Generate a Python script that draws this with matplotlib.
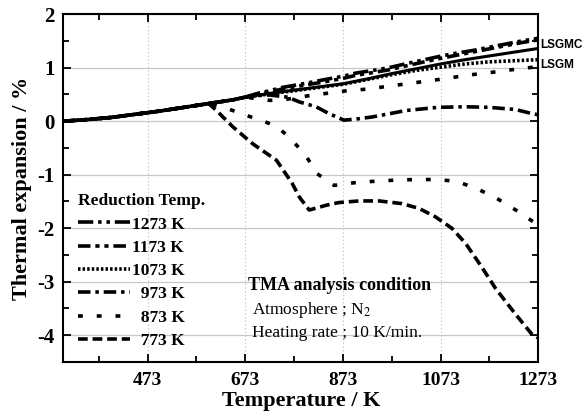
import matplotlib
matplotlib.use("Agg")
import matplotlib.pyplot as plt
from matplotlib.ticker import MultipleLocator, FixedLocator

plt.rcParams['font.family'] = ['Liberation Serif', 'DejaVu Serif']
plt.rcParams['mathtext.fontset'] = 'stix'
plt.rcParams['lines.scale_dashes'] = False
plt.rcParams['axes.unicode_minus'] = False

# shared low-temperature part of all runs
base_T = [300, 348, 398, 448, 498, 548, 598, 648, 673]
base_dL = [0.0, 0.03, 0.07, 0.13, 0.19, 0.26, 0.33, 0.40, 0.45]

# unreduced sample (solid)
ref_T = [723, 773, 823, 873, 923, 973, 1023, 1073, 1123, 1173, 1223, 1273]
ref_dL = [0.52, 0.58, 0.64, 0.70, 0.79, 0.89, 0.98, 1.07, 1.15, 1.22, 1.29, 1.36]

T_1273 = [698, 723, 748, 773, 798, 831, 873, 900, 935, 967, 1000, 1035, 1070,
          1104, 1138, 1171, 1205, 1239, 1273]
dL_1273 = [0.52, 0.57, 0.63, 0.67, 0.71, 0.77, 0.84, 0.90, 0.95, 1.00, 1.07,
           1.14, 1.21, 1.27, 1.32, 1.38, 1.44, 1.50, 1.55]

T_1173 = T_1273
dL_1173 = [0.51, 0.55, 0.60, 0.64, 0.68, 0.73, 0.80, 0.86, 0.91, 0.96, 1.03,
           1.10, 1.17, 1.23, 1.29, 1.35, 1.41, 1.47, 1.52]

T_1073 = [723, 773, 823, 873, 923, 973, 1023, 1073, 1123, 1173, 1223, 1273]
dL_1073 = [0.51, 0.57, 0.63, 0.69, 0.78, 0.87, 0.95, 1.01, 1.07, 1.11, 1.13, 1.15]

T_973 = [698, 723, 760, 784, 818, 845, 875, 900, 933, 968, 1002, 1035, 1069,
         1124, 1171, 1226, 1257, 1273]
dL_973 = [0.48, 0.49, 0.45, 0.36, 0.27, 0.14, 0.02, 0.04, 0.08, 0.14, 0.20,
          0.23, 0.26, 0.27, 0.26, 0.22, 0.15, 0.12]

T_lsgm = [698, 723, 748, 773, 798, 839, 882, 922, 963, 1004, 1045, 1086, 1127,
          1167, 1208, 1253, 1273]
dL_lsgm = [0.42, 0.39, 0.40, 0.43, 0.47, 0.52, 0.57, 0.60, 0.65, 0.70, 0.75,
           0.80, 0.86, 0.90, 0.95, 1.00, 1.02]

T_873 = [635, 675, 716, 737, 757, 794, 820, 855, 896, 941, 982, 1022, 1063,
         1104, 1145, 1186, 1227, 1263, 1273]
dL_873 = [0.24, 0.11, -0.02, -0.10, -0.25, -0.60, -0.98, -1.20, -1.15, -1.12,
          -1.10, -1.09, -1.09, -1.12, -1.25, -1.43, -1.66, -1.88, -1.92]

T_773 = [614, 647, 688, 737, 769, 784, 804, 839, 865, 906, 947, 994, 1029,
         1063, 1096, 1124, 1157, 1186, 1226, 1259, 1273]
dL_773 = [0.20, -0.10, -0.42, -0.73, -1.16, -1.42, -1.66, -1.57, -1.52, -1.49,
          -1.49, -1.54, -1.63, -1.79, -2.00, -2.28, -2.72, -3.13, -3.60, -3.97,
          -4.05]


def with_base(T, dL, start):
    # prepend the common heating curve up to where the run splits off
    bt = [t for t in base_T if t < start]
    bd = base_dL[:len(bt)]
    return bt + list(T), bd + list(dL)


fig = plt.figure(figsize=(5.85, 4.18), dpi=100)
ax = fig.add_axes([0.108, 0.134, 0.812, 0.832])

lw = 2.6
ax.plot(*with_base(ref_T, ref_dL, 700), color='black', lw=2.2, zorder=5)
ax.plot(*with_base(T_lsgm, dL_lsgm, 690), color='black', lw=lw, dashes=(3.5, 10))
h1273, = ax.plot(*with_base(T_1273, dL_1273, 690), color='black', lw=lw,
                 dashes=(11, 3.5, 2.5, 3.5, 2.5, 3.5))
h1173, = ax.plot(*with_base(T_1173, dL_1173, 690), color='black', lw=lw,
                 dashes=(9, 3.5, 3, 3.5, 3, 3.5))
h1073, = ax.plot(*with_base(T_1073, dL_1073, 700), color='black', lw=lw,
                 dashes=(1.8, 1.5))
h973, = ax.plot(*with_base(T_973, dL_973, 690), color='black', lw=lw,
                dashes=(9, 3.5, 2.5, 3.5))
h873, = ax.plot(*with_base(T_873, dL_873, 630), color='black', lw=lw,
                dashes=(3.5, 10))
h773, = ax.plot(*with_base(T_773, dL_773, 610), color='black', lw=lw,
                dashes=(7, 3.5))

ax.set_xlim(300, 1273)
ax.set_ylim(-4.5, 2)

ax.xaxis.set_major_locator(FixedLocator([473, 673, 873, 1073, 1273]))
ax.xaxis.set_minor_locator(FixedLocator([373, 573, 773, 973, 1173]))
ax.yaxis.set_major_locator(MultipleLocator(1))
ax.yaxis.set_minor_locator(MultipleLocator(0.5))

for y in range(-4, 3):
    ax.axhline(y, color='#c8c8c8', lw=0.9, zorder=0)
for x in [473, 673, 873, 1073]:
    ax.axvline(x, color='#c8c8c8', lw=0.8, ls=':', zorder=0)

ax.tick_params(which='both', direction='in', top=True, right=True, width=1.3)
ax.tick_params(which='major', length=6)
ax.tick_params(which='minor', length=4)
ax.tick_params(axis='x', pad=7)
ax.tick_params(axis='y', pad=6)
for lab in ax.get_xticklabels():
    lab.set_fontsize(14)
    lab.set_fontweight('bold')
for lab in ax.get_yticklabels():
    lab.set_fontsize(15)
    lab.set_fontweight('bold')
for s in ax.spines.values():
    s.set_linewidth(1.5)

ax.set_xlabel('Temperature / K', fontsize=16, fontweight='bold', labelpad=2)
ax.set_ylabel('Thermal expansion / %', fontsize=16, fontweight='bold', labelpad=4)

leg = ax.legend([h1273, h1173, h1073, h973, h873, h773],
                ['1273 K', '1173 K', '1073 K', '  973 K', '  873 K', '  773 K'],
                title='Reduction Temp.', loc='upper left',
                bbox_to_anchor=(0.005, 0.52), frameon=False,
                prop={'weight': 'bold', 'size': 12.5},
                title_fontproperties={'weight': 'bold', 'size': 12.5},
                handlelength=3.0, handletextpad=0.15, labelspacing=0.41,
                borderpad=0.2, alignment='left')

ax.text(0.39, 0.207, 'TMA analysis condition', transform=ax.transAxes,
        fontsize=13, fontweight='bold')
ax.text(0.398, 0.138, 'Atmosphere ; N$_2$', transform=ax.transAxes,
        fontsize=12.5)
ax.text(0.398, 0.072, 'Heating rate ; 10 K/min.', transform=ax.transAxes,
        fontsize=12.5)

ax.text(1.005, 1.42, 'LSGMC', transform=ax.get_yaxis_transform(),
        fontsize=8.5, fontweight='bold', family='Liberation Sans', va='center')
ax.text(1.005, 1.05, 'LSGM', transform=ax.get_yaxis_transform(),
        fontsize=8.5, fontweight='bold', family='Liberation Sans', va='center')

fig.savefig('out.png', dpi=100)
